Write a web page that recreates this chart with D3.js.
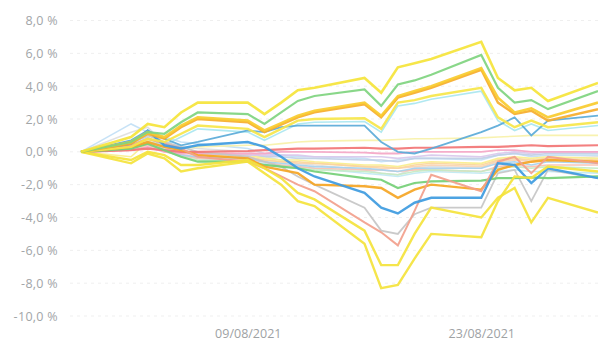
<!DOCTYPE html>
<html><head><meta charset="utf-8">
<script src="https://cdn.jsdelivr.net/npm/d3@7"></script>
<style>
html,body{margin:0;padding:0;background:#fff;}
svg{display:block;}
</style></head>
<body>
<svg id="chart" width="598" height="342"></svg>
<script>
const dates = ["2021-07-30","2021-08-02","2021-08-03","2021-08-04","2021-08-05","2021-08-06","2021-08-09","2021-08-10","2021-08-11","2021-08-12","2021-08-13","2021-08-16","2021-08-17","2021-08-18","2021-08-19","2021-08-20","2021-08-23","2021-08-24","2021-08-25","2021-08-26","2021-08-27","2021-08-30"];
const yTicks = [8, 6, 4, 2, 0, -2, -4, -6, -8, -10];
const xTicks = ["2021-08-09", "2021-08-23"];

// pale series (drawn first)
const lightBlue   = [0, 1.7, 1.2, 0.9, 0.6, 0.5, 0.2, -0.1, -0.2, -0.3, -0.3, -0.4, -0.6, -0.5, -0.4, -0.4, -0.5, -0.2, -0.1, -0.3, -0.2, -0.2];
const lightGray   = [0, 1.2, 1.5, 0.5, 0.3, 0.2, 0.0, -0.3, -0.5, -0.7, -0.8, -1.1, -1.3, -1.4, -1.0, -0.9, -1.0, -0.5, -0.4, -0.6, -0.4, -0.3];
const lightCyan   = [0, 0.5, 0.8, 0.2, -0.2, -0.4, -0.6, -0.7, -0.8, -0.9, -1.0, -1.3, -1.4, -1.5, -1.3, -1.2, -1.3, -1.2, -1.1, -1.2, -1.2, -1.3];
const peach       = [0, 0.3, 0.5, 0.0, -0.2, -0.3, -0.4, -0.5, -0.6, -0.7, -0.7, -0.9, -1.0, -1.0, -0.9, -0.8, -0.9, -0.6, -0.5, -0.6, -0.5, -0.6];
const lightSalmon = [0, 0.2, 0.4, 0.1, -0.2, -0.4, -0.5, -0.6, -0.8, -0.9, -1.0, -1.1, -1.1, -1.2, -1.1, -1.1, -1.2, -0.9, -0.8, -0.9, -0.8, -0.8];
const steel       = [0, 0.6, 0.9, 0.3, 0.0, -0.1, -0.2, -0.3, -0.3, -0.4, -0.4, -0.5, -0.5, -0.6, -0.4, -0.4, -0.4, -0.2, -0.1, -0.2, -0.1, -0.1];
const paleYellow  = [0, -0.3, 0.6, 0.2, 0.1, -0.1, -0.2, -0.4, -0.5, -0.5, -0.6, -0.8, -0.8, -0.9, -0.7, -0.6, -0.7, -0.4, -0.3, -0.4, -0.3, -0.4];
const skyBlue     = [0, 0.3, 0.6, 0.1, -0.2, -0.3, -0.4, -0.6, -0.7, -0.8, -0.9, -1.0, -1.1, -1.2, -1.0, -1.0, -1.0, -0.7, -0.6, -0.8, -0.6, -0.7];
const lightOrange = [0, 0.2, 0.5, 0.2, 0.0, -0.2, -0.3, -0.5, -0.6, -0.6, -0.7, -0.9, -0.9, -1.0, -0.8, -0.7, -0.8, -0.5, -0.4, -0.5, -0.4, -0.5];
const paleGreen   = [0, 0.4, 0.7, 0.1, -0.3, -0.5, -0.6, -0.8, -0.9, -1.0, -1.1, -1.2, -1.3, -1.4, -1.2, -1.1, -1.2, -1.0, -0.9, -1.0, -0.9, -1.0];
const lilac       = [0, 0.3, 0.6, 0.2, 0.0, -0.1, -0.2, -0.2, -0.2, -0.2, -0.3, -0.3, -0.3, -0.4, -0.3, -0.2, -0.3, -0.1, 0.0, -0.1, 0.0, 0.0];
const creamYellow = [0, 0.4, 0.7, 0.3, 0.2, 0.3, 0.4, 0.4, 0.5, 0.6, 0.65, 0.7, 0.7, 0.75, 0.8, 0.8, 0.85, 0.9, 0.95, 1.0, 1.0, 1.0];
const pink        = [0, 0.1, 0.3, 0.0, -0.1, -0.1, -0.1, -0.1, 0.0, 0.0, 0.0, -0.05, -0.1, -0.1, 0.0, 0.0, 0.0, 0.1, 0.1, 0.0, 0.0, 0.0];
const cyanUpper   = [0, 0.2, 0.6, 0.4, 0.9, 1.4, 1.2, 0.7, 1.2, 1.7, 1.8, 1.85, 1.2, 2.8, 2.95, 3.2, 3.7, 1.9, 1.3, 1.7, 1.3, 1.6];
const grayDeep    = [0, 0.6, 1.0, 0.6, 0.3, 0.0, -0.3, -0.6, -0.9, -1.5, -2.0, -3.4, -4.8, -5.0, -3.8, -3.4, -3.4, -1.3, -1.1, -3.0, -1.1, -1.6];
// bold series
const red         = [0, 0.1, 0.2, 0.1, 0.0, 0.0, 0.05, 0.1, 0.15, 0.2, 0.2, 0.25, 0.2, 0.2, 0.25, 0.25, 0.3, 0.3, 0.35, 0.4, 0.35, 0.4];
const greenLow    = [0, 0.2, 0.5, 0.1, -0.3, -0.6, -0.6, -0.8, -0.9, -1.0, -1.2, -1.6, -1.7, -2.2, -1.9, -1.8, -1.75, -1.6, -1.6, -1.55, -1.6, -1.5];
const orangeLow   = [0, 0.3, 0.6, 0.3, 0.1, -0.2, -0.4, -0.9, -1.1, -1.3, -2.0, -2.1, -2.2, -2.8, -2.3, -2.0, -2.3, -1.1, -0.8, -0.6, -0.5, -0.6];
const salmon      = [0, 0.4, 0.8, 0.5, 0.2, -0.3, -0.6, -1.0, -1.5, -2.0, -2.4, -4.3, -4.9, -5.7, -3.6, -1.4, -2.4, -0.6, -0.3, -1.3, -0.3, -0.7];
const blueLow     = [0, 0.5, 1.3, 0.4, 0.2, 0.4, 0.6, 0.3, -0.3, -1.0, -1.5, -2.5, -3.4, -3.75, -3.1, -2.8, -2.8, -0.7, -0.8, -1.9, -1.0, -1.6];
const teal        = [0, 0.7, 1.3, 0.8, 0.4, 0.6, 1.3, 1.2, 1.5, 1.6, 1.6, 1.6, 0.6, 0.0, -0.1, 0.2, 1.2, 1.6, 2.1, 1.0, 1.9, 2.2];
const yellowLow1  = [0, -0.5, 0.0, -0.2, -0.8, -0.8, -0.5, -1.0, -1.6, -2.5, -2.9, -4.8, -6.9, -6.9, -5.0, -3.4, -4.0, -2.8, -2.2, -4.3, -2.8, -3.7];
const yellowLow2  = [0, -0.7, -0.1, -0.4, -1.2, -1.0, -0.6, -1.3, -2.0, -3.0, -3.3, -5.6, -8.3, -8.1, -6.5, -5.0, -5.2, -3.0, -1.5, -1.6, -0.9, -1.2];
const yellowMid   = [0, 0.3, 0.8, 0.6, 1.1, 1.6, 1.4, 0.9, 1.4, 1.9, 2.0, 2.05, 1.4, 3.0, 3.15, 3.4, 3.9, 2.1, 1.5, 1.9, 1.5, 1.8];
const orange      = [0, 0.5, 1.1, 0.8, 1.5, 2.0, 1.8, 1.2, 1.65, 2.1, 2.4, 2.9, 2.1, 3.3, 3.6, 3.9, 5.0, 3.0, 2.3, 2.5, 1.9, 2.6];
const golden      = [0, 0.6, 1.2, 0.9, 1.6, 2.1, 1.9, 1.3, 1.75, 2.2, 2.5, 3.0, 2.2, 3.4, 3.7, 4.0, 5.1, 3.3, 2.4, 2.65, 2.1, 3.0];
const green       = [0, 0.6, 1.2, 1.1, 1.8, 2.4, 2.3, 1.7, 2.4, 3.1, 3.4, 3.8, 2.8, 4.1, 4.35, 4.7, 5.9, 3.9, 3.0, 3.15, 2.6, 3.7];
const yellowTop   = [0, 0.9, 1.7, 1.5, 2.4, 3.0, 3.0, 2.3, 3.0, 3.75, 3.9, 4.5, 3.6, 5.15, 5.4, 5.65, 6.7, 4.5, 3.75, 3.9, 3.1, 4.2];

const seriesValues = [lightBlue, lightGray, lightCyan, peach, lightSalmon, steel, paleYellow, skyBlue, lightOrange, paleGreen, lilac, creamYellow, pink, cyanUpper, grayDeep,
  red, greenLow, orangeLow, salmon, blueLow, teal, yellowLow1, yellowLow2, yellowMid, orange, golden, green, yellowTop];
const seriesColors = ["#c2e0f5", "#dedede", "#bfe9f2", "#fad3b3", "#f8c2b2", "#c0cfe6", "#f8ee8c", "#a6d1ee", "#fbd69a", "#c4eac4", "#d8c8ec", "#f7f1a8", "#f4a6c6", "#a9e6f0", "#c6c6c6",
  "#f27575", "#74cf76", "#f5a524", "#f2a08c", "#3e9be0", "#5aaad8", "#f4e33c", "#f4e33c", "#f6e64a", "#f6ac2c", "#f8cb2e", "#7fd47f", "#f5e43a"];
const seriesWidths = [1.6, 1.6, 1.6, 1.6, 1.6, 1.6, 1.6, 1.6, 1.6, 1.6, 1.6, 1.6, 1.8, 1.6, 1.8,
  2.2, 2.2, 2.4, 2.0, 2.4, 1.8, 2.4, 2.4, 2.4, 2.4, 2.6, 2.2, 2.6];

const parse = d3.timeParse("%Y-%m-%d");
const fmtDate = d3.timeFormat("%d/%m/%Y");
const svg = d3.select("#chart");

const x = d3.scaleTime().domain([parse(dates[0]), parse(dates[dates.length - 1])]).range([81, 598]);
const y = d3.scaleLinear().domain([-10, 8]).range([316, 20.5]);

const fmtPct = v => d3.format(".1f")(v).replace(".", ",").replace("−", "-") + " %";

// grid
svg.append("g").selectAll("line").data(yTicks).join("line")
  .attr("x1", 70).attr("x2", 598)
  .attr("y1", d => y(d)).attr("y2", d => y(d))
  .attr("stroke", "#efefef").attr("stroke-width", 1).attr("stroke-dasharray", "3,4");

// y axis
const yAxis = d3.axisLeft(y).tickValues(yTicks).tickSize(0).tickPadding(0).tickFormat(fmtPct);
const gy = svg.append("g").attr("transform", "translate(58,0)").call(yAxis);
gy.select(".domain").remove();
gy.selectAll("text").attr("font-family", "'Open Sans', sans-serif").attr("font-size", 12.5)
  .attr("fill", "#a2a6a8").attr("letter-spacing", "0.3px");

// x axis
const xAxis = d3.axisBottom(x).tickValues(xTicks.map(parse)).tickSize(0).tickPadding(0).tickFormat(fmtDate);
const gx = svg.append("g").attr("transform", "translate(0,334)").call(xAxis);
gx.select(".domain").remove();
gx.selectAll("text").attr("font-family", "'Open Sans', sans-serif").attr("font-size", 12.5)
  .attr("fill", "#9ea2a4").attr("dy", "0.35em");

// lines
const line = d3.line().x((d, i) => x(parse(dates[i]))).y(d => y(d));
svg.append("g").selectAll("path").data(seriesValues).join("path")
  .attr("d", d => line(d))
  .attr("fill", "none")
  .attr("stroke", (d, i) => seriesColors[i])
  .attr("stroke-width", (d, i) => seriesWidths[i])
  .attr("stroke-linejoin", "miter")
  .attr("stroke-opacity", 0.92);
</script>
</body></html>
